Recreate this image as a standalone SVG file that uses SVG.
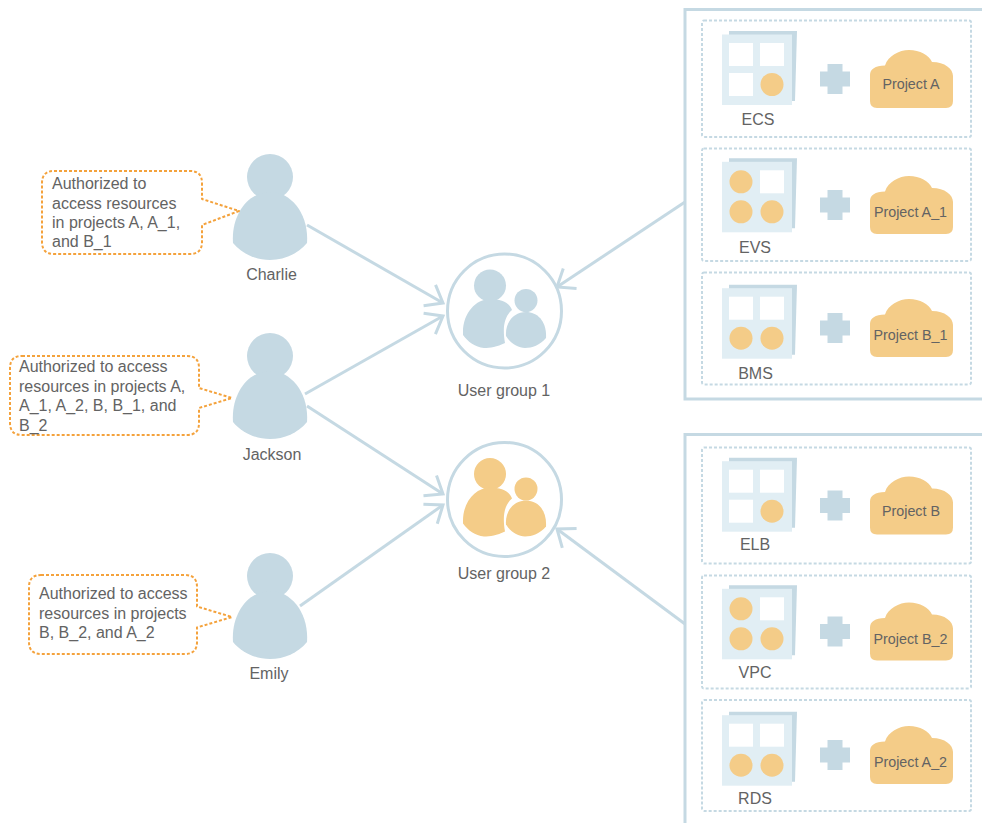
<svg xmlns="http://www.w3.org/2000/svg" width="982" height="823" viewBox="0 0 982 823">
<style>
text{font-family:"Liberation Sans",Arial,sans-serif;fill:#636363;font-size:16px}
.m{text-anchor:middle}
.p{font-size:14.300px;text-anchor:middle}
.panel{fill:none;stroke:#c5d9e3;stroke-width:3}
.row{fill:#fff;stroke:#c5d9e3;stroke-width:2;stroke-dasharray:3 2}
.call{fill:#fff;stroke:#f4a23c;stroke-width:2;stroke-dasharray:3 2;stroke-linejoin:round}
.conn{fill:none;stroke:#c5d9e3;stroke-width:3;marker-end:url(#arr)}
.blue{fill:#c5d9e3}
.org{fill:#f4cc88}
.cell{fill:#fff}
.ring{fill:#fff;stroke:#c5d9e3;stroke-width:3}
</style>
<defs>
<marker id="arr" markerUnits="userSpaceOnUse" markerWidth="26" markerHeight="30" refX="21" refY="13" orient="auto" overflow="visible"><path d="M5.500,1 L21,13 L5.500,25" fill="none" stroke="#c5d9e3" stroke-width="3"/></marker>
<g id="sheet">
<path d="M729,31 L797,31 L795,101 L729,101Z" class="blue"/>
<rect x="722" y="34.500" width="70" height="70.500" fill="#e1eef4"/>
</g>
<g id="plus"><path d="M827.500,64 h15 v7.500 h7.500 v15 h-7.500 v7.500 h-15 v-7.500 h-7.500 v-15 h7.500z" class="blue"/></g>
<g id="cloud"><path d="M877,108 Q870,108 870,101 L870,75 Q870,66 885,65.500 C888,56 899,50 909,50 C920,50 929,55 932,62 C945,62 953,69 953,76 L953,101 Q953,108 946,108Z" class="org"/></g>
<g id="person">
<circle cx="270" cy="177" r="23" class="blue"/>
<path d="M233,243 C231,215 248,192 270,192 C292,192 309,215 307,243 C298,254 284,260 270,260 C256,260 242,254 233,243Z" class="blue"/>
</g>
<path id="bigbody" d="M463,332 C463,313 476,299 490,299 C501,299 510,303 512,310 C505,316 502,326 505,343 C497,347 490,348 484,348 C475,347 468,342 463,335Z"/>
<path id="smallbody" d="M506,336 C505,322 514,312 526,312 C538,312 547,322 546,338 C540,345 532,348 525,348 C518,348 511,344 506,336Z"/>
</defs>

<g id="connectors">
<path class="conn" d="M307,225 L443,303"/>
<path class="conn" d="M305,394 L443,316"/>
<path class="conn" d="M307,406 L443,494"/>
<path class="conn" d="M300,606 L443,505"/>
<path class="conn" d="M685,202 L557,287"/>
<path class="conn" d="M685,624 L557,529"/>
</g>

<g id="panel-1"><path class="panel" d="M982,9.500 H685 V399 H982"/></g>
<g id="panel-2"><path class="panel" d="M982,434.500 H685 V823"/></g>

<g id="row-ecs">
<rect class="row" x="702" y="20.500" width="269" height="116.500" rx="2"/>
<use href="#sheet"/>
<rect class="cell" x="729" y="43" width="24" height="23"/><rect class="cell" x="760" y="43" width="24" height="23"/><rect class="cell" x="729" y="73" width="24" height="23"/><circle class="org" cx="772" cy="84.500" r="11.500"/>
<use href="#plus"/><use href="#cloud"/>
<text class="p" x="911" y="89">Project A</text><text class="m" x="758" y="124.500">ECS</text>
</g>
<g id="row-evs">
<rect class="row" x="702" y="148.500" width="269" height="112.500" rx="2"/>
<g transform="translate(0,127.300)"><use href="#sheet"/>
<circle class="org" cx="741" cy="54.500" r="11.500"/><rect class="cell" x="760" y="43" width="24" height="23"/><circle class="org" cx="741" cy="84.500" r="11.500"/><circle class="org" cx="772" cy="84.500" r="11.500"/></g>
<use href="#plus" y="126"/><use href="#cloud" y="126"/>
<text class="p" x="910.500" y="217">Project A_1</text><text class="m" x="755" y="252.500">EVS</text>
</g>
<g id="row-bms">
<rect class="row" x="702" y="272.500" width="269" height="112" rx="2"/>
<g transform="translate(0,253.700)"><use href="#sheet"/>
<rect class="cell" x="729" y="43" width="24" height="23"/><rect class="cell" x="760" y="43" width="24" height="23"/><circle class="org" cx="741" cy="84.500" r="11.500"/><circle class="org" cx="772" cy="84.500" r="11.500"/></g>
<use href="#plus" y="249"/><use href="#cloud" y="249"/>
<text class="p" x="910.500" y="340">Project B_1</text><text class="m" x="755.500" y="378.500">BMS</text>
</g>
<g id="row-elb">
<rect class="row" x="702" y="447.500" width="269" height="116" rx="2"/>
<g transform="translate(0,426.700)"><use href="#sheet"/>
<rect class="cell" x="729" y="43" width="24" height="23"/><rect class="cell" x="760" y="43" width="24" height="23"/><rect class="cell" x="729" y="73" width="24" height="23"/><circle class="org" cx="772" cy="84.500" r="11.500"/></g>
<use href="#plus" y="426.500"/><use href="#cloud" y="426.500"/>
<text class="p" x="911" y="516">Project B</text><text class="m" x="755" y="549.500">ELB</text>
</g>
<g id="row-vpc">
<rect class="row" x="702" y="575.500" width="269" height="113" rx="2"/>
<g transform="translate(0,554.300)"><use href="#sheet"/>
<circle class="org" cx="741" cy="54.500" r="11.500"/><rect class="cell" x="760" y="43" width="24" height="23"/><circle class="org" cx="741" cy="84.500" r="11.500"/><circle class="org" cx="772" cy="84.500" r="11.500"/></g>
<use href="#plus" y="552.500"/><use href="#cloud" y="552.500"/>
<text class="p" x="910.500" y="644">Project B_2</text><text class="m" x="755" y="677.500">VPC</text>
</g>
<g id="row-rds">
<rect class="row" x="702" y="700" width="269" height="111" rx="2"/>
<g transform="translate(0,680.700)"><use href="#sheet"/>
<rect class="cell" x="729" y="43" width="24" height="23"/><rect class="cell" x="760" y="43" width="24" height="23"/><circle class="org" cx="741" cy="84.500" r="11.500"/><circle class="org" cx="772" cy="84.500" r="11.500"/></g>
<use href="#plus" y="676"/><use href="#cloud" y="676"/>
<text class="p" x="910.500" y="767">Project A_2</text><text class="m" x="755" y="803.500">RDS</text>
</g>

<g id="group-1">
<circle class="ring" cx="504.500" cy="311" r="57"/>
<g class="blue"><circle cx="490" cy="285.500" r="16"/><use href="#bigbody"/><circle cx="526" cy="300.500" r="11.500"/><use href="#smallbody"/></g>
<text class="m" x="504" y="395.500">User group 1</text>
</g>
<g id="group-2">
<circle class="ring" cx="504.500" cy="499.500" r="57"/>
<g class="org" transform="translate(0,188.500)"><circle cx="490" cy="285.500" r="16"/><use href="#bigbody"/><circle cx="526" cy="300.500" r="11.500"/><use href="#smallbody"/></g>
<text class="m" x="504" y="578.500">User group 2</text>
</g>

<g id="charlie">
<use href="#person"/>
<text class="m" x="271.500" y="279.500">Charlie</text>
<path class="call" d="M54,171 H190 Q202,171 202,183 V199 L239,211 L202,225 V242 Q202,254 190,254 H54 Q42,254 42,242 V183 Q42,171 54,171Z"/>
<text x="52" y="188.500">Authorized to</text><text x="52" y="208.500">access resources</text><text x="52" y="227.500">in projects A, A_1,</text><text x="52" y="246.500">and B_1</text>
</g>
<g id="jackson">
<use href="#person" y="179"/>
<text class="m" x="272" y="459.500">Jackson</text>
<path class="call" d="M22,356 H187 Q199,356 199,368 V388 L232,398 L199,408 V423 Q199,435 187,435 H22 Q10,435 10,423 V368 Q10,356 22,356Z"/>
<text x="19" y="371.500">Authorized to access</text><text x="19" y="391.500">resources in projects A,</text><text x="19" y="410.500">A_1, A_2, B, B_1, and</text><text x="19" y="430.500">B_2</text>
</g>
<g id="emily">
<use href="#person" y="399"/>
<text class="m" x="269" y="678.500">Emily</text>
<path class="call" d="M41,575 H185 Q197,575 197,587 V606.500 L232,617 L197,627.500 V642 Q197,654 185,654 H41 Q29,654 29,642 V587 Q29,575 41,575Z"/>
<text x="39" y="598.500">Authorized to access</text><text x="39" y="618.500">resources in projects</text><text x="39" y="637.500">B, B_2, and A_2</text>
</g>
</svg>
